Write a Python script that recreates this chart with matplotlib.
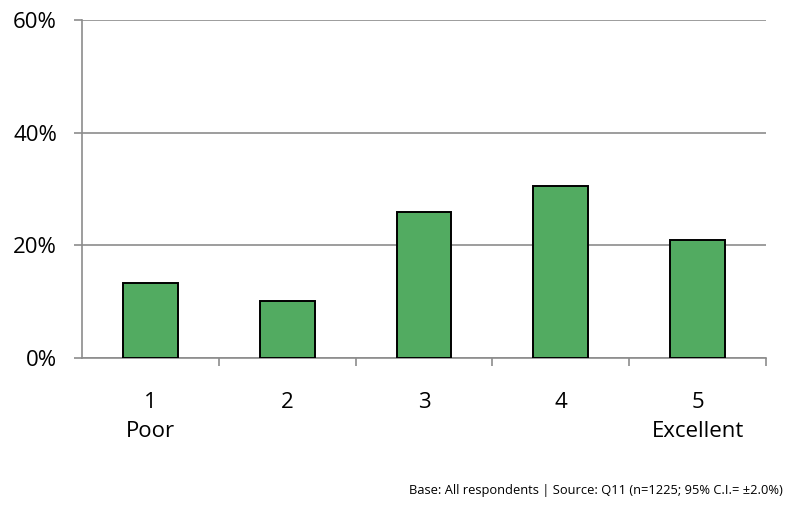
import numpy as np
from matplotlib import pyplot as plt
from matplotlib.ticker import FixedLocator, PercentFormatter

# Survey ratings, share of respondents (%)
categories = ["1\nPoor", "2\n", "3\n", "4\n", "5\nExcellent"]
values = [13.3, 10.1, 25.8, 30.5, 20.9]
y_ticks = [0, 20, 40, 60]
footer = "Base: All respondents | Source: Q11 (n=1225; 95% C.I.= \u00b12.0%)"

plt.rcParams['font.family'] = ['Open Sans', 'DejaVu Sans']

fig = plt.figure(figsize=(7.91, 5.07), dpi=100)
ax = fig.add_axes([0.1037, 0.2945, 0.8647, 0.6661])

grey = '#8c8c8c'
x = np.arange(len(values))
ax.bar(x, values, width=0.4, color='#52ab61', edgecolor='black', linewidth=1.4, zorder=3)

ax.set_xlim(-0.5, len(values) - 0.5)
ax.set_ylim(0, 60)

# y axis with grey gridlines
ax.set_yticks(y_ticks)
ax.yaxis.set_major_formatter(PercentFormatter(decimals=0))
ax.grid(axis='y', color=grey, linewidth=1.2, zorder=0)
ax.tick_params(axis='y', length=6, width=1.2, color=grey, pad=12, labelsize=16)

# x axis: labels centred, ticks between categories
ax.set_xticks(x)
ax.set_xticklabels(categories, linespacing=1.5)
ax.xaxis.set_minor_locator(FixedLocator(np.arange(0.5, len(values), 1.0)))
ax.tick_params(axis='x', which='major', length=0, pad=25, labelsize=16)
ax.tick_params(axis='x', which='minor', length=6, width=1.2, color=grey)

for side in ['top', 'right']:
    ax.spines[side].set_visible(False)
for side in ['left', 'bottom']:
    ax.spines[side].set_color(grey)
    ax.spines[side].set_linewidth(1.2)

fig.text(0.99, 0.032, footer, ha='right', va='center', fontsize=9.3)

fig.savefig("out.png", dpi=100)
